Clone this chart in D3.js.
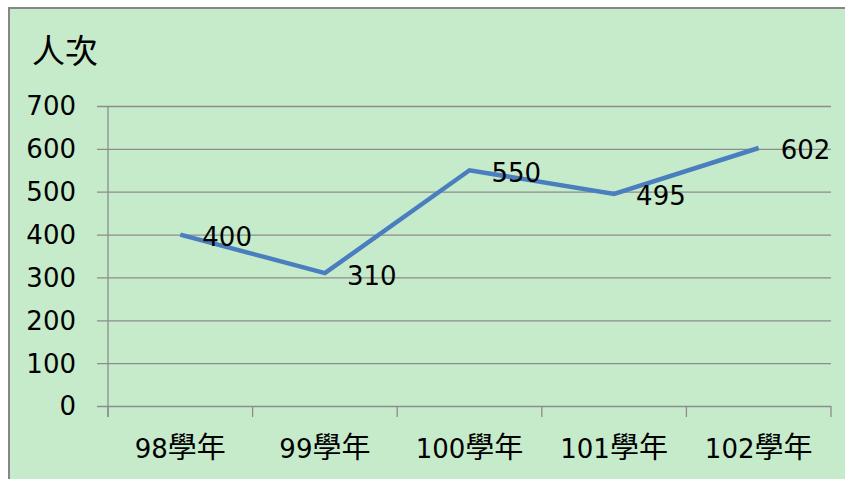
<!DOCTYPE html>
<html>
<head>
<meta charset="utf-8">
<script src="https://cdn.jsdelivr.net/npm/d3@7"></script>
<style>
  html, body { margin: 0; padding: 0; background: #ffffff; }
  svg { display: block; }
  text { font-family: "DejaVu Sans", "Noto Sans CJK TC", sans-serif; fill: #000; }
</style>
</head>
<body>
<div id="chart"></div>
<script>
// chart data
const categories = ['98學年', '99學年', '100學年', '101學年', '102學年'];
const values = [400, 310, 550, 495, 602];
const yTicks = [0, 100, 200, 300, 400, 500, 600, 700];
const yTitle = '人次';

const W = 845, H = 479;
const margin = {top: 106, right: 14, bottom: 73, left: 108};
const width = W - margin.left - margin.right;
const height = H - margin.top - margin.bottom;

const svg = d3.select('#chart').append('svg')
    .attr('width', W)
    .attr('height', H);

// chart background + border
svg.append('rect')
    .attr('x', 9).attr('y', 8)
    .attr('width', W).attr('height', H)
    .attr('fill', '#c6ebcb')
    .attr('stroke', '#868686')
    .attr('stroke-width', 2);

const g = svg.append('g')
    .attr('transform', `translate(${margin.left},${margin.top})`);

const x = d3.scaleBand().domain(categories).range([0, width]);
const y = d3.scaleLinear().domain([0, 700]).range([height, 0]);

// gridlines with small tick stubs to the left
g.append('g')
    .call(d3.axisLeft(y).tickValues(yTicks).tickSize(-width - 11).tickFormat(''))
    .attr('transform', 'translate(-11,0)')
    .call(a => a.select('.domain').remove())
    .call(a => a.selectAll('line').attr('stroke', '#8c8c8c').attr('stroke-width', 1.3).attr('x2', width + 11));

// y tick labels
g.selectAll('.ylab')
    .data(yTicks)
    .enter().append('text')
    .attr('class', 'ylab')
    .attr('x', -32)
    .attr('y', d => y(d))
    .attr('dy', '0.36em')
    .attr('text-anchor', 'end')
    .style('font-size', '26px')
    .text(d => d);

// vertical axis line
g.append('line')
    .attr('x1', 0).attr('x2', 0)
    .attr('y1', 0).attr('y2', height + 11)
    .attr('stroke', '#8c8c8c').attr('stroke-width', 1.3);

// x axis ticks at band boundaries
const xAxis = g.append('g')
    .attr('transform', `translate(0,${height})`);
xAxis.selectAll('line')
    .data(categories.map(c => x(c)).concat([width]))
    .enter().append('line')
    .attr('x1', d => d).attr('x2', d => d)
    .attr('y1', 0).attr('y2', 11)
    .attr('stroke', '#8c8c8c').attr('stroke-width', 1.3);
const xl = xAxis.selectAll('text')
    .data(categories)
    .enter().append('text')
    .attr('x', d => x(d) + x.bandwidth() / 2)
    .attr('y', 46)
    .attr('dy', '0.36em')
    .attr('text-anchor', 'middle');
// digits and CJK part in different sizes
xl.append('tspan')
    .style('font-size', '26px')
    .text(d => d.replace('學年', ''));
xl.append('tspan')
    .style('font-family', '"Noto Sans CJK TC", sans-serif')
    .style('font-size', '29px')
    .text('學年');

// y title
svg.append('text')
    .attr('x', 32)
    .attr('y', 63)
    .style('font-family', '"Noto Sans CJK TC", sans-serif')
    .style('font-size', '33px')
    .text(yTitle);

// line
const pts = categories.map((c, i) => ({c: c, v: values[i]}));
const line = d3.line()
    .x(d => x(d.c) + x.bandwidth() / 2)
    .y(d => y(d.v));

g.append('path')
    .datum(pts)
    .attr('d', line)
    .attr('fill', 'none')
    .attr('stroke', '#4a7ebf')
    .attr('stroke-width', 4.5)
    .attr('stroke-linejoin', 'miter');

// value labels
g.selectAll('.vlab')
    .data(pts)
    .enter().append('text')
    .attr('class', 'vlab')
    .attr('x', d => x(d.c) + x.bandwidth() / 2 + 22)
    .attr('y', d => y(d.v) + 2)
    .attr('dy', '0.36em')
    .style('font-size', '26px')
    .text(d => d.v);
</script>
</body>
</html>
